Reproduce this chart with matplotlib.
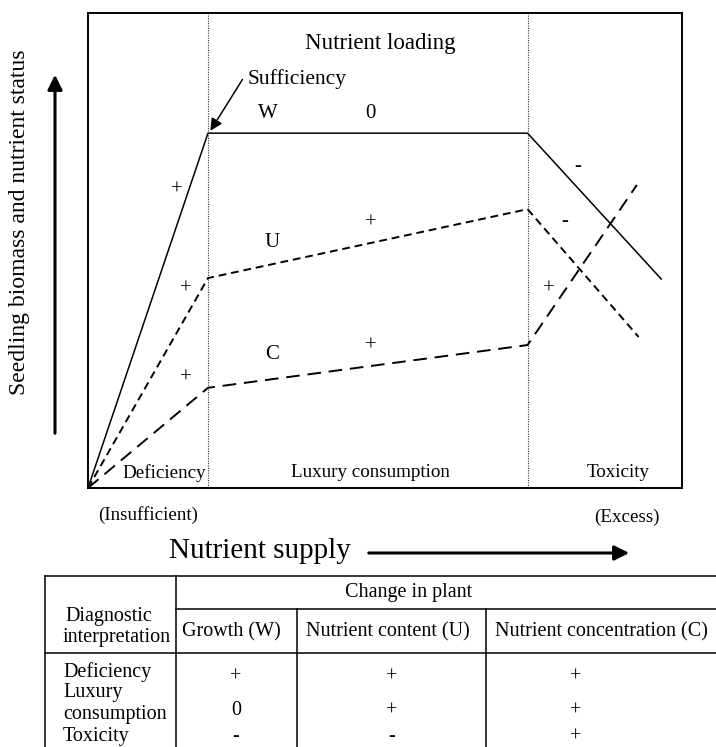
import matplotlib
matplotlib.use("Agg")
import matplotlib.pyplot as plt
from matplotlib.patches import FancyArrowPatch

# ---------------- data ----------------
supply_W = [0, 20.2, 74.0, 96.5]
status_W = [0, 74.7, 74.7, 44.0]
supply_U = [0, 20.2, 74.0, 92.7]
status_U = [0, 44.2, 58.7, 31.8]
supply_C = [0, 20.2, 74.0, 92.4]
status_C = [0, 21.1, 30.1, 63.8]
zone_bounds = [20.2, 74.0]
zone_labels = ["Deficiency", "Luxury consumption", "Toxicity"]
zone_label_x = [12.8, 47.6, 89.2]

table_group = "Change in plant"
table_cols = ["Growth (W)", "Nutrient content (U)", "Nutrient concentration (C)"]
table_rows = ["Deficiency", "Luxury", "consumption", "Toxicity"]
table_vals = [["+", "+", "+"], ["0", "+", "+"], ["-", "-", "+"]]

# ---------------- figure ----------------
plt.rcParams['font.family'] = ['Liberation Serif', 'DejaVu Serif']
W, H = 716, 747
fig = plt.figure(figsize=(W / 100, H / 100), dpi=100)


def fx(px):
    return px / W


def fy(py):
    return 1 - py / H


L, R, T, B = 88, 682, 13, 488
ax = fig.add_axes([fx(L), fy(B), (R - L) / W, (B - T) / H])
ax.set_xlim(0, 100)
ax.set_ylim(0, 100)
ax.set_xticks([])
ax.set_yticks([])
for s in ax.spines.values():
    s.set_linewidth(1.4)
    s.set_color('black')

for xb in zone_bounds:
    ax.axvline(xb, color='#333333', lw=0.8, ls=(0, (1, 1.2)))

ax.plot(supply_W, status_W, color='black', lw=1.1, ls='-')
ax.plot(supply_U, status_U, color='black', lw=1.4, ls=(0, (4, 2.5)))
ax.plot(supply_C, status_C, color='black', lw=1.4, ls=(0, (7, 4)))

fs = 13.7
for lab, xx in zip(zone_labels, zone_label_x):
    ax.text(xx, 3.2, lab, ha='center', va='center', fontsize=fs)

ax.text(49.2, 93.5, "Nutrient loading", ha='center', va='center', fontsize=16.5)
ax.text(26.8, 86.1, "Sufficiency", ha='left', va='center', fontsize=15.5)
ax.add_patch(FancyArrowPatch((26.0, 86.0), (20.6, 75.2), arrowstyle='-|>',
                             mutation_scale=18, lw=1.1, color='black',
                             shrinkA=0, shrinkB=0))

marks = [
    ("W", 30.2, 78.9), ("0", 47.6, 78.9),
    ("U", 31.0, 51.6), ("+", 47.6, 55.8),
    ("C", 31.0, 28.2), ("+", 47.6, 29.9),
    ("+", 15.0, 62.7), ("+", 16.4, 41.9), ("+", 16.4, 23.2),
    ("-", 82.5, 67.6), ("-", 80.3, 56.0), ("+", 77.6, 41.9),
]
for t, xx, yy in marks:
    ax.text(xx, yy, t, ha='center', va='center', fontsize=15)

# below-axis labels
fig.text(fx(148), fy(515), "(Insufficient)", ha='center', va='center', fontsize=fs)
fig.text(fx(627), fy(517), "(Excess)", ha='center', va='center', fontsize=fs)
fig.text(fx(169), fy(551), "Nutrient supply", ha='left', va='center', fontsize=21)
fig.add_artist(FancyArrowPatch(
    (fx(366), fy(553)), (fx(632), fy(553)), transform=fig.transFigure,
    arrowstyle='-|>', mutation_scale=22, lw=2.2, color='black'))

# y axis label and arrow
fig.text(fx(20), fy(222), "Seedling biomass and nutrient status", rotation=90,
         ha='center', va='center', fontsize=17)
fig.add_artist(FancyArrowPatch(
    (fx(55), fy(436)), (fx(55), fy(72)), transform=fig.transFigure,
    arrowstyle='-|>', mutation_scale=22, lw=2.2, color='black'))

# ---------------- table ----------------
tt, tb = 560, 747
tax = fig.add_axes([0, 0, 1, (tb - tt) / H])
tax.set_xlim(0, W)
tax.set_ylim(tb, tt)
tax.axis('off')

lw = 1.1
x_left, x_c1, x_c2, x_c3, x_right = 45, 176, 297, 486, 716
y_top, y_sub, y_head = 576, 609, 653
tax.plot([x_left, x_right], [y_top, y_top], color='black', lw=lw)
tax.plot([x_c1, x_right], [y_sub, y_sub], color='black', lw=lw)
tax.plot([x_left, x_right], [y_head, y_head], color='black', lw=lw)
tax.plot([x_left, x_left], [y_top, tb], color='black', lw=lw)
tax.plot([x_c1, x_c1], [y_top, tb], color='black', lw=lw)
tax.plot([x_c2, x_c2], [y_sub, tb], color='black', lw=lw)
tax.plot([x_c3, x_c3], [y_sub, tb], color='black', lw=lw)

tfs = 14.5
tax.text(409, 593, table_group, ha='center', va='center', fontsize=tfs)
tax.text(65, 617, "Diagnostic", ha='left', va='center', fontsize=tfs)
tax.text(63, 638, "interpretation", ha='left', va='center', fontsize=tfs)
col_cx = [231, 388, 601]
for c, cx in zip(table_cols, col_cx):
    tax.text(cx, 632, c, ha='center', va='center', fontsize=tfs)

row_y = [672, 693, 715, 737]
for r, ry in zip(table_rows, row_y):
    tax.text(63, ry, r, ha='left', va='center', fontsize=tfs)

val_y = [677, 711, 737]
val_x = [236, 392, 576]
for ri, row in enumerate(table_vals):
    for ci, v in enumerate(row):
        tax.text(val_x[ci], val_y[ri], v, ha='center', va='center', fontsize=tfs)

fig.savefig("out.png", dpi=100)
